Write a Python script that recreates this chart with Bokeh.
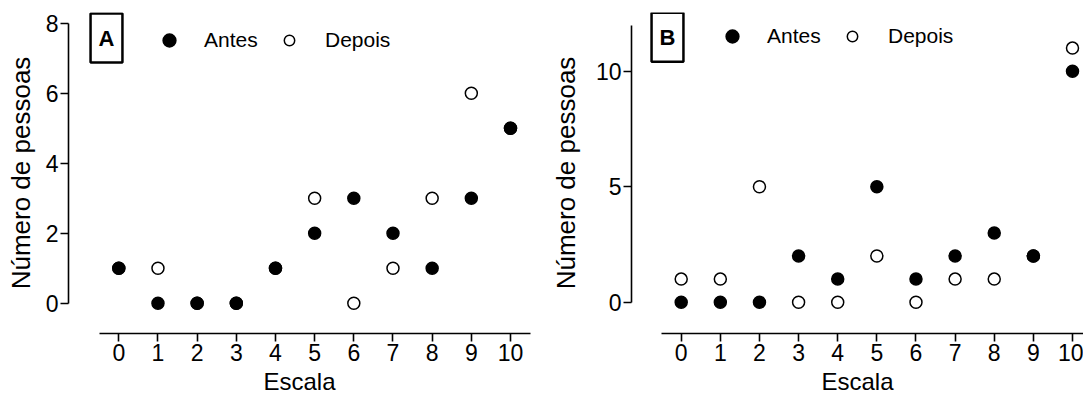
from bokeh.plotting import figure
from bokeh.models import Range1d, FixedTicker, Legend, LegendItem, Label
from bokeh.layouts import row
from bokeh.embed import file_html
from bokeh.resources import INLINE

# ---- data ----
escala = [0, 1, 2, 3, 4, 5, 6, 7, 8, 9, 10]
a_antes = [1, 0, 0, 0, 1, 2, 3, 2, 1, 3, 5]
a_depois = [1, 1, 0, 0, 1, 3, 0, 1, 3, 6, 5]
b_antes = [0, 0, 0, 2, 1, 5, 1, 2, 3, 2, 10]
b_depois = [1, 1, 5, 0, 0, 2, 0, 1, 1, 2, 11]
a_yticks = [0, 2, 4, 6, 8]
b_yticks = [0, 5, 10]
x_title = "Escala"
y_title = "Número de pessoas"

FONT = "Liberation Sans"
H = 400
TOP, BOT = 12, 67


def rng(v0, p0, v1, p1, lo_px, hi_px):
    s = (p1 - p0) / (v1 - v0)
    return (v0 + (lo_px - p0) / s, v0 + (hi_px - p0) / s)


def make(panel, x0px, x10px, y0px, yvpx, yv, ybound, yticks, width, left, right,
         canvas_x, antes, depois, lab_standoff, leg_dy, box_dx, box_dy):
    frame_l = canvas_x + left
    frame_r = canvas_x + width - right
    frame_t = TOP
    frame_b = H - BOT
    fh = frame_b - frame_t
    xr = rng(0, x0px, 10, x10px, frame_l, frame_r)
    yr = rng(0, y0px, yv, yvpx, frame_b, frame_t)
    p = figure(width=width, height=H, output_backend="svg", toolbar_location=None,
               x_range=Range1d(*xr), y_range=Range1d(*yr),
               min_border_left=left, min_border_right=right,
               min_border_top=TOP, min_border_bottom=BOT)
    p.outline_line_color = None
    p.grid.visible = False
    p.background_fill_color = "white"
    p.border_fill_color = "white"

    for ax in (p.xaxis[0], p.yaxis[0]):
        ax.axis_line_width = 1.6
        ax.major_tick_line_width = 1.6
        ax.major_tick_out = 8
        ax.major_tick_in = 0
        ax.minor_tick_out = 0
        ax.minor_tick_in = 0
        ax.major_label_text_font = FONT
        ax.major_label_text_font_size = "23px"
        ax.major_label_text_color = "black"
        ax.axis_label_text_font = FONT
        ax.axis_label_text_font_style = "normal"
        ax.axis_label_text_color = "black"
        ax.major_label_standoff = 2
    p.xaxis.axis_label_text_font_size = "24px"
    p.yaxis.axis_label_text_font_size = "26px"
    p.xaxis.ticker = FixedTicker(ticks=escala)
    p.yaxis.ticker = FixedTicker(ticks=yticks)
    p.xaxis.bounds = (-0.5, 10.5)
    p.yaxis.bounds = (0, ybound)
    p.xaxis.axis_label = x_title
    p.yaxis.axis_label = y_title
    p.xaxis.axis_label_standoff = 4
    p.yaxis.axis_label_standoff = lab_standoff

    r_dep = p.scatter(escala, depois, size=12, marker="circle", fill_color="white",
                      line_color="black", line_width=1.5)
    r_ant = p.scatter(escala, antes, size=12, marker="circle", fill_color="black",
                      line_color="black", line_width=1.5)

    common = dict(orientation="horizontal", padding=0, margin=0, border_line_alpha=0,
                  background_fill_alpha=0, label_text_font=FONT,
                  label_text_font_size="21px", label_text_color="black", spacing=0)
    leg1 = Legend(items=[LegendItem(label="Antes", renderers=[r_ant])],
                  location=(85, fh - (leg_dy + 16)), glyph_width=32, glyph_height=32,
                  label_standoff=19, **common)
    leg2 = Legend(items=[LegendItem(label="Depois", renderers=[r_dep])],
                  location=(208, fh - (leg_dy + 13)), glyph_width=26, glyph_height=26,
                  label_standoff=23, **common)
    p.add_layout(leg1, "center")
    p.add_layout(leg2, "center")

    lab = Label(x=box_dx, y=fh - box_dy, x_units="screen", y_units="screen",
                text=panel, text_font=FONT, text_font_size="22px", text_font_style="bold",
                text_align="center", text_baseline="middle", text_color="black",
                border_line_color="black", border_line_width=2.5,
                background_fill_color="white",
                padding=dict(left=8, right=8, top=12, bottom=12))
    p.add_layout(lab)
    return p


pA = make("A", 118.3, 510.0, 302.7, 22.7, 8, 8, a_yticks, 540, 68, 10, 0,
          a_antes, a_depois, 7, 28, 38, 25.5)
pB = make("B", 680.7, 1072.0, 301.7, 70.7, 10, 12, b_yticks, 543, 91, 0, 540,
          b_antes, b_depois, 12, 24, 36, 24.7)

layout = row(pA, pB)
open("out.html", "w").write(file_html(layout, INLINE))
